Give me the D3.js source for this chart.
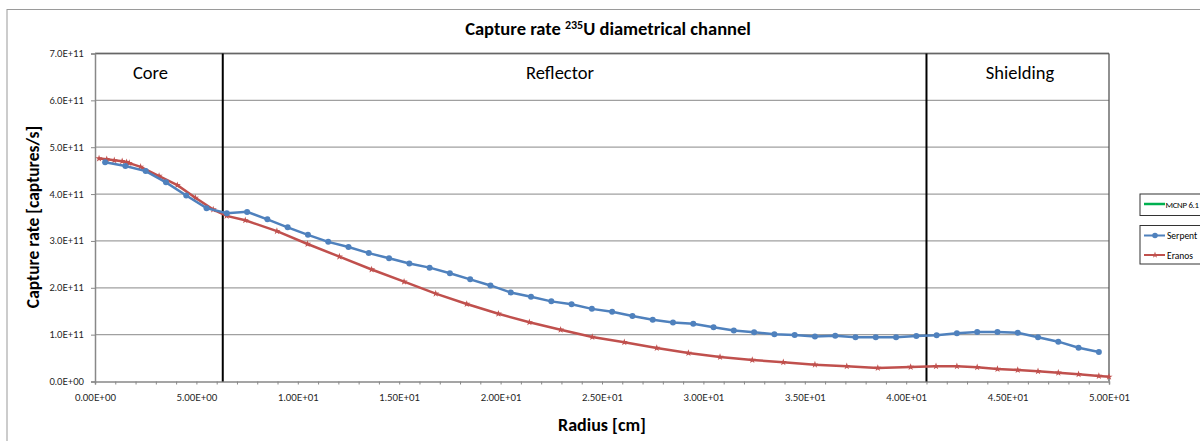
<!DOCTYPE html>
<html>
<head>
<meta charset="utf-8">
<script src="https://cdn.jsdelivr.net/npm/d3@7"></script>
<style>
  html, body { margin: 0; padding: 0; background: #fff; overflow: hidden; }
  svg { display: block; font-family: Carlito, Lato, "Open Sans", sans-serif; }
</style>
</head>
<body>
<svg id="chart" width="1200" height="441"></svg>
<script>
// ---- data (radius in cm, capture rate in captures/s) ----
const serpentRadius = [0.5,1.5,2.5,3.5,4.5,5.5,6.5,7.5,8.5,9.5,10.5,11.5,12.5,13.5,14.5,15.5,16.5,17.5,18.5,19.5,
  20.5,21.5,22.5,23.5,24.5,25.5,26.5,27.5,28.5,29.5,30.5,31.5,32.5,33.5,34.5,35.5,36.5,37.5,38.5,39.5,
  40.5,41.5,42.5,43.5,44.5,45.5,46.5,47.5,48.5,49.5];
const serpentRate = [4.68e11,4.60e11,4.49e11,4.25e11,3.97e11,3.70e11,3.59e11,3.62e11,3.46e11,3.29e11,
  3.13e11,2.98e11,2.87e11,2.74e11,2.63e11,2.52e11,2.43e11,2.31e11,2.18e11,2.05e11,
  1.90e11,1.81e11,1.71e11,1.65e11,1.55e11,1.49e11,1.40e11,1.32e11,1.26e11,1.23e11,
  1.16e11,1.09e11,1.05e11,1.01e11,0.99e11,0.96e11,0.975e11,0.945e11,0.945e11,0.945e11,
  0.97e11,0.985e11,1.03e11,1.055e11,1.055e11,1.04e11,0.945e11,0.85e11,0.72e11,0.63e11];
const eranosRadius = [0.2,0.58,0.95,1.34,1.56,1.69,2.25,3.16,4.06,4.95,5.83,6.49,7.41,8.97,10.48,12.05,13.64,15.24,16.8,18.33,
  19.89,21.42,22.96,24.52,26.1,27.7,29.26,30.82,32.41,33.94,35.5,37.07,38.6,40.22,41.47,42.5,43.5,44.5,45.5,46.5,
  47.5,48.5,49.5,50.0];
const eranosRate = [4.76e11,4.745e11,4.72e11,4.70e11,4.68e11,4.66e11,4.58e11,4.385e11,4.19e11,3.92e11,3.67e11,3.535e11,3.44e11,3.21e11,2.935e11,2.665e11,2.39e11,2.13e11,1.875e11,1.655e11,
  1.445e11,1.263e11,1.105e11,0.95e11,0.837e11,0.715e11,0.608e11,0.523e11,0.459e11,0.41e11,0.36e11,0.325e11,0.29e11,0.31e11,0.325e11,0.325e11,0.305e11,0.268e11,0.245e11,0.218e11,
  0.188e11,0.155e11,0.118e11,0.10e11];
const mcnpRadius = [];
const mcnpRate = [];
const regionNames = ["Core", "Reflector", "Shielding"];
const regionBounds = [0, 6.3, 41.0, 50];
const xTickValues = [0, 5, 10, 15, 20, 25, 30, 35, 40, 45, 50];
const xTickLabels = ["0.00E+00","5.00E+00","1.00E+01","1.50E+01","2.00E+01","2.50E+01","3.00E+01","3.50E+01","4.00E+01","4.50E+01","5.00E+01"];
const yTickValues = [0, 1e11, 2e11, 3e11, 4e11, 5e11, 6e11, 7e11];
const yTickLabels = ["0.0E+00","1.0E+11","2.0E+11","3.0E+11","4.0E+11","5.0E+11","6.0E+11","7.0E+11"];
const seriesNames = ["MCNP 6.1", "Serpent", "Eranos"];
const seriesColors = ["#00B050", "#4F81BD", "#C0504D"];

// ---- layout ----
const svg = d3.select("#chart");
const X0 = 95, X1 = 1109, Y0 = 381.5, Y1 = 53.5;
const x = d3.scaleLinear().domain([0, 50]).range([X0, X1]);
const y = d3.scaleLinear().domain([0, 7e11]).range([Y0, Y1]);

// outer chart border
svg.append("rect").attr("x", 7).attr("y", 9.5).attr("width", 1300).attr("height", 500)
  .attr("fill", "none").attr("stroke", "#9a9a9a").attr("stroke-width", 1);

// title
const title = svg.append("text").attr("x", 608).attr("y", 35).attr("text-anchor", "middle")
  .attr("font-weight", "bold").attr("font-size", 18.5).attr("fill", "#000");
title.append("tspan").text("Capture rate ");
title.append("tspan").attr("font-size", 12).attr("dy", -6).text("235");
title.append("tspan").attr("dy", 6).text("U diametrical channel");

// gridlines
svg.append("g").selectAll("line").data(yTickValues.slice(1)).join("line")
  .attr("x1", X0).attr("x2", X1).attr("y1", d => y(d)).attr("y2", d => y(d))
  .attr("stroke", "#a0a0a0").attr("stroke-width", 1.3);

// plot border top/right
svg.append("line").attr("x1", X0).attr("x2", X1).attr("y1", Y1).attr("y2", Y1).attr("stroke", "#666").attr("stroke-width", 1.5);
svg.append("line").attr("x1", X1).attr("x2", X1).attr("y1", Y1).attr("y2", Y0).attr("stroke", "#555").attr("stroke-width", 1.3);

// axes
const xAxis = d3.axisBottom(x).tickValues(d3.range(0, 51, 1)).tickSize(3)
  .tickFormat(d => { const i = xTickValues.indexOf(d); return i >= 0 ? xTickLabels[i] : ""; });
const gx = svg.append("g").attr("transform", `translate(0,${Y0})`).call(xAxis);
gx.select(".domain").attr("stroke", "#888").attr("stroke-width", 1.5);
gx.selectAll(".tick line").attr("stroke", "#888");
gx.selectAll(".tick text").attr("font-size", 9.5).attr("fill", "#222").attr("dy", "1.45em")
  .attr("font-family", "Lato, sans-serif");

const yAxis = d3.axisLeft(y).tickValues(yTickValues).tickSize(4)
  .tickFormat((d, i) => yTickLabels[i]);
const gy = svg.append("g").attr("transform", `translate(${X0},0)`).call(yAxis);
gy.select(".domain").attr("stroke", "#888").attr("stroke-width", 1.5);
gy.selectAll(".tick line").attr("stroke", "#888");
gy.selectAll(".tick text").attr("font-size", 9.3).attr("fill", "#222").attr("dx", "-4")
  .attr("font-family", "Lato, sans-serif");

// axis titles
svg.append("text").attr("x", 602).attr("y", 431).attr("text-anchor", "middle")
  .attr("font-weight", "bold").attr("font-size", 18).text("Radius [cm]");
svg.append("text").attr("transform", "translate(39,217) rotate(-90)").attr("text-anchor", "middle")
  .attr("font-weight", "bold").attr("font-size", 17.5).text("Capture rate [captures/s]");

// region boundaries
svg.append("g").selectAll("line").data(regionBounds.slice(1, 3)).join("line")
  .attr("x1", d => x(d)).attr("x2", d => x(d)).attr("y1", Y1).attr("y2", Y0)
  .attr("stroke", "#000").attr("stroke-width", 2);
// region labels
const regionCenters = [150.5, 560, 1020];
svg.append("g").selectAll("text").data(regionNames).join("text")
  .attr("x", (d, i) => regionCenters[i])
  .attr("y", 79).attr("text-anchor", "middle").attr("font-size", 18.5).attr("fill", "#000").text(d => d);

// series
const line = d3.line().x(d => x(d[0])).y(d => y(d[1]));
const serpent = serpentRadius.map((r, i) => [r, serpentRate[i]]);
const eranos = eranosRadius.map((r, i) => [r, eranosRate[i]]);
const mcnp = mcnpRadius.map((r, i) => [r, mcnpRate[i]]);

svg.append("path").datum(mcnp).attr("d", line).attr("fill", "none").attr("stroke", seriesColors[0]).attr("stroke-width", 2.5);

svg.append("path").datum(eranos).attr("d", line).attr("fill", "none").attr("stroke", seriesColors[2]).attr("stroke-width", 2.5);
svg.append("g").selectAll("path").data(eranos).join("path")
  .attr("transform", d => `translate(${x(d[0])},${y(d[1])})`)
  .attr("d", d3.symbol(d3.symbolStar, 16)).attr("fill", seriesColors[2]);

svg.append("path").datum(serpent).attr("d", line).attr("fill", "none").attr("stroke", seriesColors[1]).attr("stroke-width", 2.5);
svg.append("g").selectAll("circle").data(serpent).join("circle")
  .attr("cx", d => x(d[0])).attr("cy", d => y(d[1])).attr("r", 3).attr("fill", seriesColors[1]);

// legend
const leg = svg.append("g");
leg.append("rect").attr("x", 1140).attr("y", 194).attr("width", 100).attr("height", 21.5)
  .attr("fill", "#fff").attr("stroke", "#333").attr("stroke-width", 1);
leg.append("line").attr("x1", 1144).attr("x2", 1165).attr("y1", 204).attr("y2", 204)
  .attr("stroke", seriesColors[0]).attr("stroke-width", 2.5);
leg.append("text").attr("x", 1165.5).attr("y", 207.5).attr("font-size", 8.8).attr("letter-spacing", -0.3).text(seriesNames[0]);

leg.append("rect").attr("x", 1140).attr("y", 225.5).attr("width", 100).attr("height", 38.5)
  .attr("fill", "#fff").attr("stroke", "#333").attr("stroke-width", 1);
leg.append("line").attr("x1", 1144).attr("x2", 1165).attr("y1", 235.5).attr("y2", 235.5)
  .attr("stroke", seriesColors[1]).attr("stroke-width", 2);
leg.append("circle").attr("cx", 1155).attr("cy", 235.5).attr("r", 2.8).attr("fill", seriesColors[1]);
leg.append("text").attr("x", 1167).attr("y", 239).attr("font-size", 9.5).text(seriesNames[1]);
leg.append("line").attr("x1", 1144).attr("x2", 1165).attr("y1", 255).attr("y2", 255)
  .attr("stroke", seriesColors[2]).attr("stroke-width", 2);
leg.append("path").attr("transform", "translate(1155,255)").attr("d", d3.symbol(d3.symbolStar, 14)).attr("fill", seriesColors[2]);
leg.append("text").attr("x", 1167).attr("y", 258.5).attr("font-size", 9.5).text(seriesNames[2]);
</script>
</body>
</html>
